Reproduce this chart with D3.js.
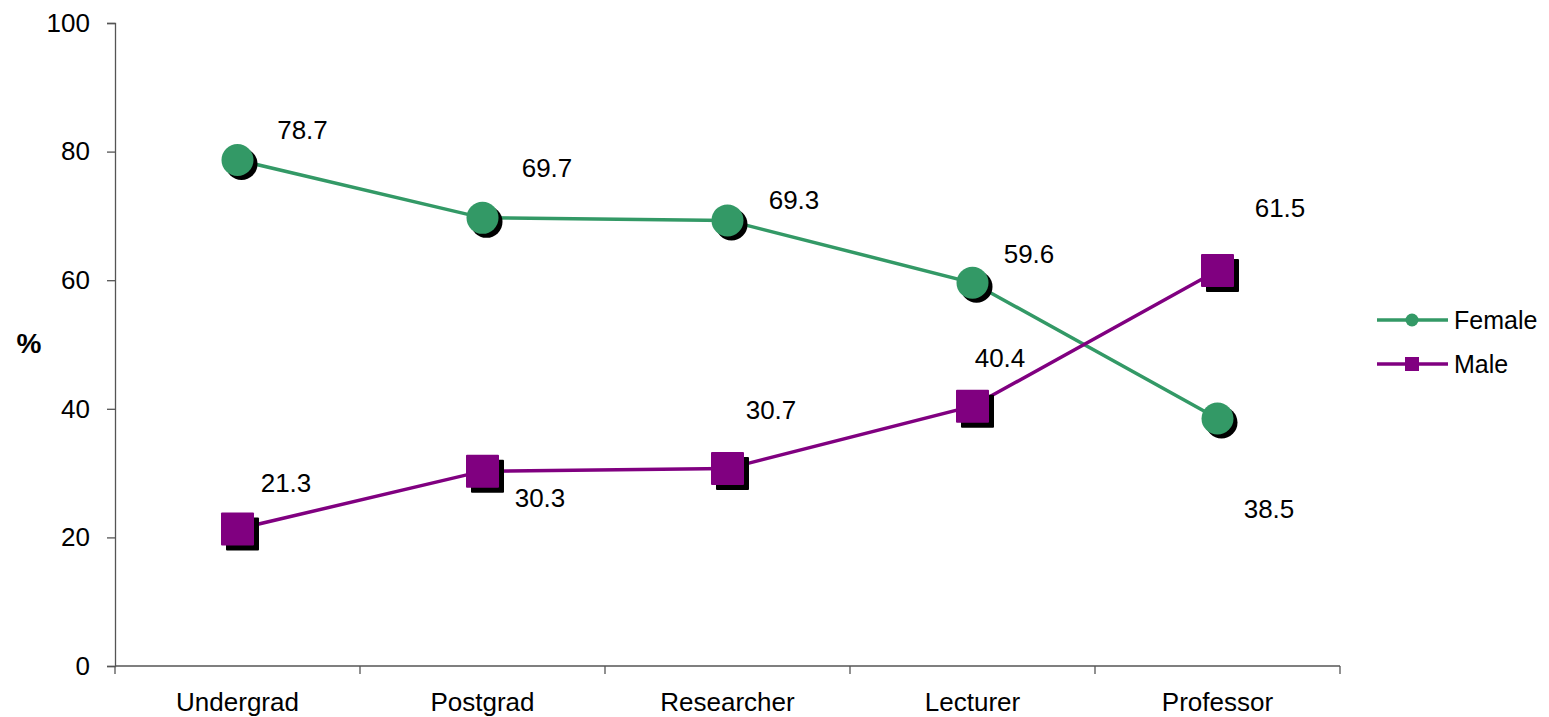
<!DOCTYPE html>
<html>
<head>
<meta charset="utf-8">
<script src="https://cdn.jsdelivr.net/npm/d3@7/dist/d3.min.js"></script>
<style>
  html, body { margin: 0; padding: 0; background: #fff; }
  svg { display: block; font-family: "Liberation Sans", Arial, sans-serif; }
</style>
</head>
<body>
<svg id="chart" width="1549" height="717"></svg>
<script>
// Share of women and men at each academic career stage (%)
const categories = ["Undergrad", "Postgrad", "Researcher", "Lecturer", "Professor"];
const femaleValues = [78.7, 69.7, 69.3, 59.6, 38.5];
const maleValues = [21.3, 30.3, 30.7, 40.4, 61.5];
const yTicks = [0, 20, 40, 60, 80, 100];

// Hand-placed value label offsets (dx, dy) from each marker to the label centre
const femaleLabelOffsets = [[65, -30], [64.5, -50], [66.5, -21], [56.5, -29], [51.5, 90]];
const maleLabelOffsets = [[48.5, -47], [57.5, 26], [43.5, -59], [27.5, -49], [62.5, -63]];

const series = [
  { name: "Female", values: femaleValues, color: "#339966", shape: "circle", offsets: femaleLabelOffsets },
  { name: "Male", values: maleValues, color: "#800080", shape: "square", offsets: maleLabelOffsets }
];

const FONT = 26;

const svg = d3.select("#chart");
const margin = { left: 115, right: 209, top: 23, bottom: 51 };
const width = 1549 - margin.left - margin.right;
const height = 717 - margin.top - margin.bottom;

const g = svg.append("g").attr("transform", `translate(${margin.left},${margin.top})`);

const x = d3.scaleBand().domain(categories).range([0, width]);
const y = d3.scaleLinear().domain([0, 100]).range([height, 0]);
const cx = c => x(c) + x.bandwidth() / 2;

// Y axis
const yAxis = g.append("g")
  .call(d3.axisLeft(y).tickValues(yTicks).tickSize(8).tickPadding(17));
yAxis.select(".domain").attr("stroke", "#555").attr("stroke-width", 1.3);
yAxis.selectAll(".tick line").attr("stroke", "#555").attr("stroke-width", 1.3);
yAxis.selectAll(".tick text").attr("font-size", FONT).attr("fill", "#000")
  .attr("font-family", "Liberation Sans, Arial, sans-serif");

// X axis: ticks on the band boundaries, labels in the band centres
const xAxisG = g.append("g").attr("transform", `translate(0,${height})`);
xAxisG.append("line")
  .attr("x1", 0).attr("x2", width).attr("y1", 0).attr("y2", 0)
  .attr("stroke", "#555").attr("stroke-width", 1.3);
const boundaries = categories.map(c => x(c)).concat([x.range()[1]]);
xAxisG.selectAll("line.tick")
  .data(boundaries).enter().append("line")
  .attr("class", "tick")
  .attr("x1", d => d).attr("x2", d => d)
  .attr("y1", 0).attr("y2", 8)
  .attr("stroke", "#555").attr("stroke-width", 1.3);
xAxisG.selectAll("text.cat")
  .data(categories).enter().append("text")
  .attr("class", "cat")
  .attr("x", d => cx(d)).attr("y", 45)
  .attr("text-anchor", "middle")
  .attr("font-size", FONT).attr("fill", "#000")
  .text(d => d);

// Y axis title
svg.append("text")
  .attr("x", 29).attr("y", 353)
  .attr("text-anchor", "middle")
  .attr("font-size", 28).attr("font-weight", "bold")
  .text("%");

const line = d3.line().x((d, i) => cx(categories[i])).y(d => y(d));

const R = 16;     // circle marker radius
const S = 33;     // square marker side
const SH = 4;     // shadow offset

series.forEach(s => {
  g.append("path")
    .datum(s.values)
    .attr("fill", "none")
    .attr("stroke", s.color)
    .attr("stroke-width", 3.5)
    .attr("d", line);

  const pts = g.append("g").selectAll("g")
    .data(s.values).enter().append("g")
    .attr("transform", (d, i) => `translate(${cx(categories[i])},${y(d)})`);

  if (s.shape === "circle") {
    pts.append("circle").attr("cx", SH).attr("cy", SH).attr("r", R).attr("fill", "#000");
    pts.append("circle").attr("r", R).attr("fill", s.color);
  } else {
    pts.append("rect").attr("x", -S / 2 + SH + 1).attr("y", -S / 2 + SH + 1)
      .attr("width", S).attr("height", S).attr("rx", 1).attr("fill", "#000");
    pts.append("rect").attr("x", -S / 2).attr("y", -S / 2)
      .attr("width", S).attr("height", S).attr("rx", 1).attr("fill", s.color);
  }

  g.append("g").selectAll("text")
    .data(s.values).enter().append("text")
    .attr("x", (d, i) => cx(categories[i]) + s.offsets[i][0])
    .attr("y", (d, i) => y(d) + s.offsets[i][1] + 9.5)
    .attr("text-anchor", "middle")
    .attr("font-size", FONT).attr("fill", "#000")
    .text(d => d.toFixed(1));
});

// Legend
const legend = svg.append("g").attr("transform", "translate(1377,320)");
series.forEach((s, i) => {
  const row = legend.append("g").attr("transform", `translate(0,${i * 44})`);
  row.append("line").attr("x1", 0).attr("x2", 71).attr("y1", 0).attr("y2", 0)
    .attr("stroke", s.color).attr("stroke-width", 3.5);
  if (s.shape === "circle") {
    row.append("circle").attr("cx", 35).attr("cy", 0).attr("r", 6.5).attr("fill", s.color);
  } else {
    row.append("rect").attr("x", 28).attr("y", -7).attr("width", 14).attr("height", 14).attr("fill", s.color);
  }
  row.append("text").attr("x", 77).attr("y", 9)
    .attr("font-size", 25).attr("fill", "#000")
    .text(s.name);
});
</script>
</body>
</html>
